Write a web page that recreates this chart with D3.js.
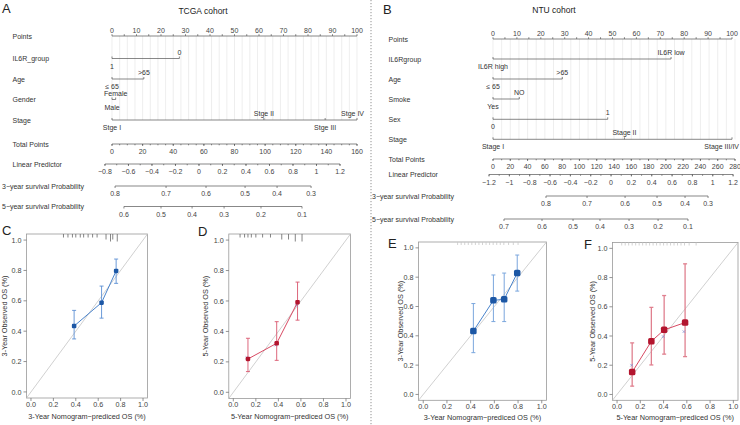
<!DOCTYPE html>
<html><head><meta charset="utf-8">
<script src="https://cdn.jsdelivr.net/npm/d3@7"></script>
<style>
body{margin:0;background:#fff}
svg{display:block;font-family:"Liberation Sans",Arial,sans-serif}
</style></head>
<body><svg id="c" width="740" height="425"></svg>
<script>
// ---------------- DATA ----------------
// TCGA nomogram
const tcgaPoints=[0,10,20,30,40,50,60,70,80,90,100];
const tcgaVarNames=["IL6R_group","Age","Gender","Stage"];
const tcgaLevels=[["1","0"],["≤ 65",">65"],["Male","Female"],["Stge I","Stge II","Stge III","Stge IV"]];
const tcgaLevelPts=[[0,27.5],[0,13],[0,1.5],[0,62,87,100]];
const tcgaTotal=[0,20,40,60,80,100,120,140,160];
const tcgaLP=[-0.8,-0.6,-0.4,-0.2,0,0.2,0.4,0.6,0.8,1,1.2];
const tcgaLPTotal=[-4.6,148.9];            // total points at first / last LP tick
const tcgaSurv3=[0.8,0.7,0.6,0.5,0.4,0.3];
const tcgaSurv3Total=[2,35.3,61.4,86.9,107.8,130];
const tcgaSurv5=[0.6,0.5,0.4,0.3,0.2,0.1];
const tcgaSurv5Total=[7.8,32,52.3,73.2,97.3,124.1];

// NTU nomogram
const ntuPoints=[0,10,20,30,40,50,60,70,80,90,100];
const ntuVarNames=["IL6Rgroup","Age","Smoke","Sex","Stage"];
const ntuLevels=[["IL6R high","IL6R low"],["≤ 65",">65"],["Yes","NO"],["0","1"],["Stage I","Stage II","Stage III/IV"]];
const ntuLevelPts=[[0,74.5],[0,29],[0,11],[0,48],[0,55,100]];
const ntuTotal=[0,20,40,60,80,100,120,140,160,180,200,220,240,260,280];
const ntuLP=[-1.2,-1,-0.8,-0.6,-0.4,-0.2,0,0.2,0.4,0.6,0.8,1,1.2];
const ntuLPTotal=[-4.6,277.8];
const ntuSurv3=[0.8,0.7,0.6,0.5,0.4,0.3];
const ntuSurv3Total=[61.3,108.8,152.8,189.8,222.2,248.8];
const ntuSurv5=[0.7,0.6,0.5,0.4,0.3,0.2,0.1];
const ntuSurv5Total=[12.7,56.7,92.6,123.8,157.4,191.0,225.6];

// Calibration curves
const calTicks=[0,0.2,0.4,0.6,0.8,1.0];
const cPred=[0.385,0.63,0.76], cObs=[0.434,0.588,0.797], cLo=[0.349,0.486,0.715], cHi=[0.537,0.697,0.875];
const cRug=[0.29,0.33,0.37,0.40,0.44,0.47,0.51,0.55,0.59,0.67,0.71,0.73,0.77];
const cRugN=[1,1,1,1,1,1,1,1,1,2,3,2,3];
const dPred=[0.13,0.385,0.57], dObs=[0.219,0.322,0.592], dLo=[0.136,0.21,0.474], dHi=[0.355,0.464,0.724];
const dIdeal=[[0.12,0.228],[0.375,0.31],[0.56,0.57]];
const dRug=[0.06,0.10,0.13,0.16,0.20,0.26,0.33,0.43,0.49,0.55,0.61];
const dRugN=[1,1,1,1,1,1,1,2,2,3,3];
const ePred=[0.423,0.592,0.683,0.793], eObs=[0.432,0.642,0.649,0.828], eLo=[0.285,0.497,0.497,0.705], eHi=[0.62,0.815,0.828,0.951];
const eRug=[0.29,0.32,0.35,0.38,0.41,0.44,0.47,0.50,0.53,0.56,0.59,0.62,0.65,0.68,0.72,0.76,0.80];
const eRugN=eRug.map(()=>1);
const fPred=[0.13,0.295,0.405,0.585], fObs=[0.153,0.364,0.442,0.492], fLo=[0.057,0.202,0.276,0.259], fHi=[0.353,0.596,0.677,0.894];
const fIdeal=[[0.125,0.20],[0.397,0.396],[0.575,0.43]];
const fRug=[0.04,0.07,0.10,0.13,0.16,0.19,0.22,0.25,0.28,0.31,0.34,0.37,0.40,0.43,0.46,0.49,0.52,0.55,0.58,0.62,0.68];
const fRugN=fRug.map(()=>1);

// ---------------- DRAW ----------------
const svg=d3.select("#c");
const fmt=d3.format("");
const fmt1=d3.format(".1f");
const INK="#555", TXT="#333";

function text(g,x,y,s,size,anchor,fill){
  return g.append("text").attr("x",x).attr("y",y).attr("font-size",size)
    .attr("text-anchor",anchor||"start").attr("fill",fill||TXT).text(s);
}
function hline(g,x1,x2,y,col,w){g.append("line").attr("x1",x1).attr("x2",x2).attr("y1",y).attr("y2",y).attr("stroke",col||INK).attr("stroke-width",w||0.7);}
function vline(g,x,y1,y2,col,w){g.append("line").attr("x1",x).attr("x2",x).attr("y1",y1).attr("y2",y2).attr("stroke",col||INK).attr("stroke-width",w||0.7);}

// divider
svg.append("line").attr("x1",371).attr("x2",371).attr("y1",0).attr("y2",425)
  .attr("stroke","#777").attr("stroke-width",0.8).attr("stroke-dasharray","1.2,1.8");

function nomogram(L,D){
  const g=svg.append("g");
  const FS=7;
  const pts=d3.scaleLinear([0,100],[L.x0,L.x1]);
  const tmax=D.total[D.total.length-1];
  const tot=d3.scaleLinear([0,tmax],[L.x0,L.tx1]);
  text(g,L.letterX,L.letterY,L.letter,13,"start","#222");
  text(g,L.titleX,L.titleY,L.title,8.5,"middle","#222");
  // grid
  d3.range(0,tmax+1e-6,L.gridStep).forEach(v=>vline(g,tot(v),L.yPoints,L.yVars[L.yVars.length-1],"#e2e2e2",0.6));
  // Points
  text(g,L.labelX,L.yPoints+2.5,"Points",FS);
  hline(g,pts(0),pts(100),L.yPoints);
  d3.range(0,101,5).forEach(v=>vline(g,pts(v),L.yPoints,L.yPoints-1.8));
  D.points.forEach(v=>text(g,pts(v),L.yPoints-3,fmt(v),FS,"middle","#444"));
  // variables
  D.names.forEach((nm,i)=>{
    const y=L.yVars[i];
    text(g,L.labelX,y+2.5,nm,FS);
    const p=D.levelPts[i];
    hline(g,pts(d3.min(p)),pts(d3.max(p)),y);
    p.forEach((v,j)=>{
      vline(g,pts(v),y,y-2);
      const ty=(j%2===1)? y-6.5+2.5 : y+7.5+2.5;
      const t=text(g,pts(v),ty,D.levels[i][j],FS,"middle","#333");
      const w=t.node().getComputedTextLength();
      if(pts(v)+w/2>L.rightLimit) t.attr("x",L.rightLimit-w/2);
    });
  });
  // Total points
  text(g,L.labelX,L.yTotal+2.5,"Total Points",FS);
  hline(g,tot(0),tot(tmax),L.yTotal);
  d3.range(0,tmax+1e-6,L.gridStep).forEach(v=>vline(g,tot(v),L.yTotal,L.yTotal+1.3));
  D.total.forEach(v=>{vline(g,tot(v),L.yTotal,L.yTotal+2);text(g,tot(v),L.yTotal+10,fmt(v),FS,"middle","#444");});
  // Linear predictor
  const lp0=D.lp[0], lpN=D.lp[D.lp.length-1];
  const lpT=d3.scaleLinear([lp0,lpN],D.lpTotal);
  text(g,L.labelX,L.yLP+2.5,"Linear Predictor",FS);
  hline(g,tot(lpT(lp0)),tot(lpT(lpN)),L.yLP);
  d3.range(lp0,lpN+1e-6,0.1).forEach(v=>vline(g,tot(lpT(v)),L.yLP,L.yLP+1.3));
  D.lp.forEach(v=>{vline(g,tot(lpT(v)),L.yLP,L.yLP+2);text(g,tot(lpT(v)),L.yLP+10,fmt(v),FS,"middle","#444");});
  // survival axes
  [[D.s3,D.s3T,L.y3,"3−year survival Probability"],[D.s5,D.s5T,L.y5,"5−year survival Probability"]].forEach(([vals,tv,y,lab])=>{
    text(g,L.longLabelX,y+2.5,lab,FS);
    hline(g,tot(d3.min(tv)),tot(d3.max(tv)),y);
    vals.forEach((v,i)=>{vline(g,tot(tv[i]),y,y+2);text(g,tot(tv[i]),y+10,fmt1(v),FS,"middle","#444");});
  });
}

nomogram({letter:"A",letterX:2,letterY:13,title:"TCGA cohort",titleX:203,titleY:13.5,
  x0:112,x1:357,tx1:357,labelX:12.5,longLabelX:2,rightLimit:364,gridStep:5,
  yPoints:36,yVars:[58.5,79,99.5,120],yTotal:144,yLP:164,y3:186,y5:206.5},
  {points:tcgaPoints,names:tcgaVarNames,levels:tcgaLevels,levelPts:tcgaLevelPts,total:tcgaTotal,
   lp:tcgaLP,lpTotal:tcgaLPTotal,s3:tcgaSurv3,s3T:tcgaSurv3Total,s5:tcgaSurv5,s5T:tcgaSurv5Total});

nomogram({letter:"B",letterX:383,letterY:13.5,title:"NTU cohort",titleX:554,titleY:12.5,
  x0:493,x1:732,tx1:735,labelX:388.5,longLabelX:372,rightLimit:739,gridStep:10,
  yPoints:39,yVars:[59,79,99,119.3,139.3],yTotal:159,yLP:174.5,y3:196,y5:219},
  {points:ntuPoints,names:ntuVarNames,levels:ntuLevels,levelPts:ntuLevelPts,total:ntuTotal,
   lp:ntuLP,lpTotal:ntuLPTotal,s3:ntuSurv3,s3T:ntuSurv3Total,s5:ntuSurv5,s5T:ntuSurv5Total});

function calPlot(L,D){
  const g=svg.append("g");
  const x=d3.scaleLinear([-0.04,1.04],[L.left,L.right]);
  const y=d3.scaleLinear([-0.04,1.04],[L.bottom,L.top]);
  text(g,L.letterX,L.letterY,L.letter,13,"start","#222");
  g.append("rect").attr("x",L.left).attr("y",L.top).attr("width",L.right-L.left).attr("height",L.bottom-L.top)
    .attr("fill","none").attr("stroke","#999").attr("stroke-width",0.8);
  g.append("line").attr("x1",x(-0.04)).attr("y1",y(-0.04)).attr("x2",x(1.04)).attr("y2",y(1.04))
    .attr("stroke","#bbb").attr("stroke-width",0.7);
  calTicks.forEach(v=>{
    vline(g,x(v),L.bottom,L.bottom+3,"#666",0.7);
    text(g,x(v),L.bottom+9,fmt1(v),7.2,"middle","#444");
    hline(g,L.left-3,L.left,y(v),"#666",0.7);
    text(g,L.left-5,y(v)+2.6,fmt1(v),7.2,"end","#444");
  });
  // rug
  D.rug.forEach((r,i)=>vline(g,x(r),L.top,L.top+1.5+D.rugN[i]*L.rugUnit,L.rugCol,0.8));
  // error bars
  D.pred.forEach((p,i)=>{
    vline(g,x(p),y(D.lo[i]),y(D.hi[i]),L.errCol,L.errW);
    hline(g,x(p)-2,x(p)+2,y(D.lo[i]),L.errCol,L.errW);
    hline(g,x(p)-2,x(p)+2,y(D.hi[i]),L.errCol,L.errW);
  });
  // ideal markers
  (D.ideal||[]).forEach(([a,b])=>{
    const cx=x(a),cy=y(b),s=1.3;
    g.append("path").attr("d",`M${cx-s},${cy-s}L${cx+s},${cy+s}M${cx-s},${cy+s}L${cx+s},${cy-s}`)
      .attr("stroke","#7f8fd0").attr("stroke-width",0.7);
  });
  // line
  const pts=D.pred.map((p,i)=>[p,D.obs[i]]);
  g.append("path").attr("d",d3.line().x(d=>x(d[0])).y(d=>y(d[1]))(pts))
    .attr("fill","none").attr("stroke",L.lineCol).attr("stroke-width",1);
  pts.forEach(d=>g.append("rect").attr("x",x(d[0])-L.ms/2).attr("y",y(d[1])-L.ms/2)
    .attr("width",L.ms).attr("height",L.ms).attr("rx",L.ms*0.25).attr("fill",L.ptCol));
  text(g,(L.left+L.right)/2,L.xTitleY,L.xTitle,7.3,"middle","#333");
  text(g,0,0,L.yTitle,7.3,"middle","#333")
    .attr("transform",`translate(${L.yTitleX},${(L.top+L.bottom)/2}) rotate(-90)`);
}

const BLUE={lineCol:"#4a84cc",ptCol:"#1c57a5",errCol:"#5b8fd4"};
const RED={lineCol:"#d84a63",ptCol:"#b3152e",errCol:"#d9576e"};

calPlot(Object.assign({letter:"C",letterX:2,letterY:235,left:26.5,right:147.5,top:234,bottom:398,
  xTitleY:418.5,yTitleX:7,ms:4.5,errW:0.9,rugUnit:2,rugCol:"#666",
  xTitle:"3-Year Nomogram−prediced OS (%)",yTitle:"3-Year Observed OS (%)"},BLUE),
  {pred:cPred,obs:cObs,lo:cLo,hi:cHi,rug:cRug,rugN:cRugN});
calPlot(Object.assign({letter:"D",letterX:198,letterY:236,left:228.8,right:350.5,top:234,bottom:398.4,
  xTitleY:418.5,yTitleX:207.5,ms:4.5,errW:0.9,rugUnit:2,rugCol:"#666",
  xTitle:"5-Year Nomogram−prediced OS (%)",yTitle:"5-Year Observed OS (%)"},RED),
  {pred:dPred,obs:dObs,lo:dLo,hi:dHi,rug:dRug,rugN:dRugN,ideal:dIdeal});
calPlot(Object.assign({letter:"E",letterX:388,letterY:248,left:418.5,right:546.5,top:242,bottom:400.3,
  xTitleY:420,yTitleX:402.5,ms:6.5,errW:1,rugUnit:1.5,rugCol:"#c8c8c8",
  xTitle:"3-Year Nomogram−prediced OS (%)",yTitle:"3-Year Observed OS (%)"},BLUE,{errCol:"#7aa6dd"}),
  {pred:ePred,obs:eObs,lo:eLo,hi:eHi,rug:eRug,rugN:eRugN});
calPlot(Object.assign({letter:"F",letterX:584,letterY:249,left:612.4,right:738,top:242.5,bottom:400.3,
  xTitleY:420,yTitleX:594.5,ms:6.5,errW:1.3,rugUnit:1.5,rugCol:"#c8c8c8",
  xTitle:"5-Year Nomogram−prediced OS (%)",yTitle:"5-Year Observed OS (%)"},RED,{errCol:"#e0808f"}),
  {pred:fPred,obs:fObs,lo:fLo,hi:fHi,rug:fRug,rugN:fRugN,ideal:fIdeal});
</script>
</body></html>
